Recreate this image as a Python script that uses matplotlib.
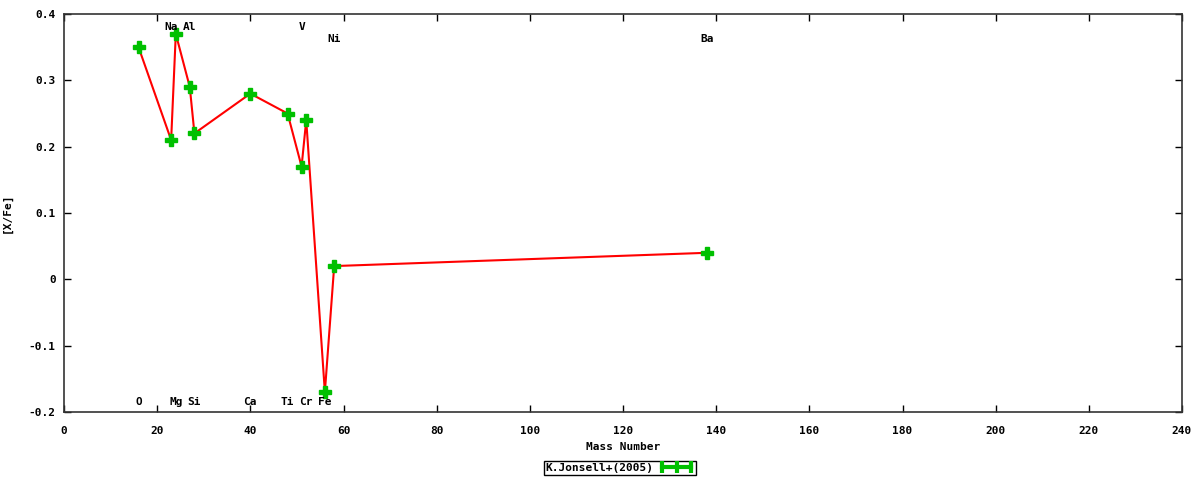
import matplotlib
matplotlib.use("Agg")
from matplotlib import pyplot as plt
from matplotlib.lines import Line2D

# abundance pattern, K.Jonsell+(2005)
elements = ["O", "Na", "Mg", "Al", "Si", "Ca", "Ti", "V", "Cr", "Fe", "Ni", "Ba"]
mass = [16, 23, 24, 27, 28, 40, 48, 51, 52, 56, 58, 138]
xfe = [0.35, 0.21, 0.37, 0.29, 0.22, 0.28, 0.25, 0.17, 0.24, -0.17, 0.02, 0.04]

# element labels as drawn on the chart
label_names = ["O", "Na", "Mg", "Al", "Si", "Ca", "Ti", "V", "Cr", "Fe", "Ni", "Ba"]
label_x = [16, 23, 24, 27, 28, 40, 48, 51, 52, 56, 58, 138]
label_y = [-0.185, 0.381, -0.185, 0.381, -0.185, -0.185, -0.185, 0.381, -0.185, -0.185, 0.363, 0.363]

font = {"family": "DejaVu Sans Mono", "weight": "bold", "size": 8}

fig = plt.figure(figsize=(12, 4.8), dpi=100)
ax = fig.add_axes([64 / 1200, 1 - 412 / 480, (1182 - 64) / 1200, (412 - 14) / 480])

ax.plot(mass, xfe, color="#ff0000", lw=1.5, zorder=2)
ax.plot(mass, xfe, ls="none", marker="P", ms=9, color="#00c000", mec="#00c000", zorder=3)

for name, lx, ly in zip(label_names, label_x, label_y):
    ax.text(lx, ly, name, ha="center", va="center", **font)

ax.set_xlim(0, 240)
ax.set_ylim(-0.2, 0.4)
ax.set_xticks(range(0, 241, 20))
ax.set_yticks([-0.2, -0.1, 0, 0.1, 0.2, 0.3, 0.4])
ax.set_yticklabels(["-0.2", "-0.1", "0", "0.1", "0.2", "0.3", "0.4"])
ax.tick_params(direction="in", top=True, right=True, length=5, width=1, pad=6)
ax.tick_params(axis="x", pad=10)
for lbl in ax.get_xticklabels() + ax.get_yticklabels():
    lbl.set_fontfamily("DejaVu Sans Mono")
    lbl.set_fontweight("bold")
    lbl.set_fontsize(8)
for sp in ax.spines.values():
    sp.set_linewidth(1.2)
    sp.set_color("#333333")

ax.set_xlabel("Mass Number", va="center", **font)
ax.set_ylabel("[X/Fe]", **font)
ax.xaxis.set_label_coords(0.5, -0.088)
ax.yaxis.set_label_coords(-0.047, 0.5)

handle = Line2D([0], [0], color="#00c000", lw=3, marker="|", ms=9, mew=3)
leg = fig.legend([handle], ["K.Jonsell+(2005)"], loc="center", bbox_to_anchor=(620 / 1200, 1 - 468 / 480),
                 markerfirst=False, numpoints=3, handlelength=3.2, fancybox=False,
                 edgecolor="black", framealpha=1, borderpad=0.15, handletextpad=0.5,
                 prop={"family": "DejaVu Sans Mono", "weight": "bold", "size": 8})
leg.get_frame().set_linewidth(1)

fig.savefig("out.png", dpi=100)
